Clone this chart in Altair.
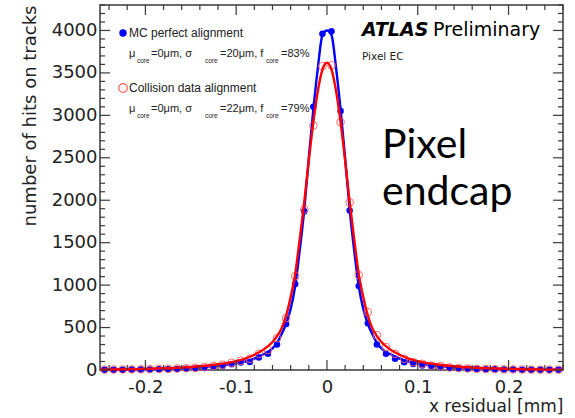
import altair as alt
import pandas as pd

# Bin centres of the residual histograms [mm]
bin_x = [-0.245, -0.235, -0.225, -0.215, -0.205, -0.195, -0.185, -0.175, -0.165, -0.155,
         -0.145, -0.135, -0.125, -0.115, -0.105, -0.095, -0.085, -0.075, -0.065, -0.055,
         -0.045, -0.035, -0.025, -0.015, -0.005, 0.005, 0.015, 0.025, 0.035, 0.045,
         0.055, 0.065, 0.075, 0.085, 0.095, 0.105, 0.115, 0.125, 0.135, 0.145,
         0.155, 0.165, 0.175, 0.185, 0.195, 0.205, 0.215, 0.225, 0.235, 0.245, 0.255]

# MC perfect alignment (hits per bin)
mc_hits = [3, 4, 4, 5, 6, 7, 9, 10, 12, 15,
           18, 24, 35, 48, 68, 88, 95, 148, 190, 300,
           541, 1012, 1870, 3100, 3960, 3990, 3050, 1880, 990, 550,
           300, 190, 132, 92, 72, 52, 40, 31, 24, 18,
           14, 11, 9, 8, 6, 5, 4, 4, 3, 3, 3]

# Collision data alignment (hits per bin)
data_hits = [4, 5, 6, 7, 8, 10, 12, 14, 18, 22,
             27, 35, 48, 62, 85, 108, 132, 190, 235, 375,
             612, 1106, 1894, 2880, 3580, 3590, 2920, 1976, 1118, 682,
             410, 270, 190, 132, 92, 72, 52, 45, 30, 24,
             18, 14, 12, 10, 8, 7, 6, 5, 4, 4, 4]

# Fitted double-Gaussian curves
fit_x = [-0.25, -0.22, -0.20, -0.18, -0.16, -0.14, -0.12, -0.10, -0.09, -0.08,
         -0.07, -0.06, -0.055, -0.05, -0.045, -0.04, -0.035, -0.03, -0.025, -0.02,
         -0.015, -0.01, -0.005, 0.0, 0.005, 0.01, 0.015, 0.02, 0.025, 0.03,
         0.035, 0.04, 0.045, 0.05, 0.055, 0.06, 0.07, 0.08, 0.09, 0.10,
         0.12, 0.14, 0.16, 0.18, 0.20, 0.22, 0.26]
mc_fit = [3, 5, 8, 13, 20, 30, 48, 78, 100, 135,
          185, 255, 320, 420, 545, 720, 990, 1410, 1890, 2500,
          3070, 3560, 3945, 4000, 3945, 3560, 3070, 2500, 1890, 1410,
          990, 720, 545, 420, 320, 255, 185, 135, 100, 78,
          48, 30, 20, 13, 8, 5, 3]
data_fit = [4, 8, 13, 20, 30, 45, 68, 105, 135, 180,
            240, 330, 400, 490, 640, 860, 1130, 1540, 1980, 2470,
            2920, 3290, 3540, 3620, 3540, 3290, 2920, 2470, 1980, 1540,
            1130, 860, 640, 490, 400, 330, 240, 180, 135, 105,
            68, 45, 30, 20, 13, 8, 4]

# Axis tick values
x_major = [-0.2, -0.1, 0.0, 0.1, 0.2]
x_minor = [-0.24, -0.22, -0.18, -0.16, -0.14, -0.12, -0.08, -0.06, -0.04, -0.02,
           0.02, 0.04, 0.06, 0.08, 0.12, 0.14, 0.16, 0.18, 0.22, 0.24, 0.26]
y_major = [0, 500, 1000, 1500, 2000, 2500, 3000, 3500, 4000]
y_minor = [v for v in range(100, 4301, 100) if v % 500 != 0]

W, H = 463, 365
AX = "DejaVu Sans"
LEG = "Liberation Sans"
FRAME = "#3a3a3a"
BLUE = "#0000ff"
RED = "#ff0000"
RED_PT = "#ff6060"

xscale = alt.Scale(domain=[-0.25, 0.26], nice=False, zero=False)
yscale = alt.Scale(domain=[0, 4300], nice=False)
xaxis = alt.Axis(values=x_major, title="x residual [mm]",
                 labelExpr="datum.value == 0 ? '0' : replace(format(datum.value, '.1f'), '\u2212', '-')")
yaxis = alt.Axis(values=y_major, title="number of hits on tracks", format="d")


def X(field):
    return alt.X(f"{field}:Q", scale=xscale, axis=xaxis)


def Y(field):
    return alt.Y(f"{field}:Q", scale=yscale, axis=yaxis)


hist = pd.DataFrame({"x": bin_x, "mc": mc_hits, "data": data_hits})
fits = pd.DataFrame({"x": fit_x, "mc": mc_fit, "data": data_fit})

mc_pts = alt.Chart(hist).mark_point(filled=True, color=BLUE, size=42, opacity=1).encode(
    x=X("x"), y=Y("mc"))
mc_line = alt.Chart(fits).mark_line(color=BLUE, strokeWidth=2.4, interpolate="monotone").encode(
    x=X("x"), y=Y("mc"))
data_pts = alt.Chart(hist).mark_point(filled=False, color=RED_PT, size=60, strokeWidth=1,
                                     opacity=0.9).encode(x=X("x"), y=Y("data"))
data_line = alt.Chart(fits).mark_line(color=RED, strokeWidth=2.4, interpolate="monotone").encode(
    x=X("x"), y=Y("data"))

# Inward-pointing ticks on all four sides of the frame
xt_major = pd.DataFrame({"v": x_major})
xt_minor = pd.DataFrame({"v": x_minor})
yt_major = pd.DataFrame({"v": y_major})
yt_minor = pd.DataFrame({"v": y_minor})


def xticks(df, length):
    bottom = alt.Chart(df).mark_rule(color=FRAME, strokeWidth=1.2).encode(
        x=X("v"), y=alt.value(H), y2=alt.value(H - length))
    top = alt.Chart(df).mark_rule(color=FRAME, strokeWidth=1.2).encode(
        x=X("v"), y=alt.value(0), y2=alt.value(length))
    return bottom + top


def yticks(df, length):
    left = alt.Chart(df).mark_rule(color=FRAME, strokeWidth=1.2).encode(
        y=Y("v"), x=alt.value(0), x2=alt.value(length))
    right = alt.Chart(df).mark_rule(color=FRAME, strokeWidth=1.2).encode(
        y=Y("v"), x=alt.value(W), x2=alt.value(W - length))
    return left + right


ticks = xticks(xt_major, 10) + xticks(xt_minor, 5) + yticks(yt_major, 10) + yticks(yt_minor, 5)


def label(text, px, py, size, font=LEG, weight="normal", style="normal", align="left", color="#222"):
    return alt.Chart(pd.DataFrame({"t": [text]})).mark_text(
        align=align, baseline="middle", font=font, fontSize=size, fontWeight=weight,
        fontStyle=style, color=color).encode(text="t:N", x=alt.value(px), y=alt.value(py))


# Legend entries
legend = (
    alt.Chart(pd.DataFrame({"k": [0]})).mark_point(filled=True, color=BLUE, size=55, opacity=1)
    .encode(x=alt.value(23), y=alt.value(28))
    + alt.Chart(pd.DataFrame({"k": [0]})).mark_point(filled=False, color=RED_PT, size=75, strokeWidth=1.2, opacity=1)
    .encode(x=alt.value(23), y=alt.value(83))
    + label("MC perfect alignment", 29, 28, 12)
    + label("Collision data alignment", 29, 83, 12)
)
fit_rows = [(49, "20", "83"), (104, "22", "79")]
for row_y, sig, frac in fit_rows:
    legend = (legend
              + label("\u03bc", 29, row_y, 11)
              + label("core", 37, row_y + 7, 6.5)
              + label("=0\u03bcm, \u03c3", 51, row_y, 11)
              + label("core", 105, row_y + 7, 6.5)
              + label(f"={sig}\u03bcm, f", 120, row_y, 11)
              + label("core", 166, row_y + 7, 6.5)
              + label(f"={frac}%", 181, row_y, 11))

texts = (
    label("ATLAS", 262, 25, 19, font=AX, weight="bold", style="italic", color="#000")
    + label("Preliminary", 333, 25, 19, font=AX, color="#000")
    + label("Pixel EC", 262, 52, 10.5, font=AX)
    + label("Pixel", 282, 141, 41, font="Lato", color="#000")
    + label("endcap", 282, 188, 41, font="Lato", color="#000")
)

chart = alt.layer(mc_pts, mc_line, data_pts, data_line, ticks, legend, texts).properties(
    width=W, height=H,
    autosize=alt.AutoSizeParams(type="none"),
    padding={"left": 100, "top": 5, "right": 12, "bottom": 48},
).configure_view(
    stroke=FRAME, strokeWidth=1.5
).configure_axis(
    domain=False, ticks=False, grid=False,
    labelFont=AX, labelFontSize=18, labelColor="#222",
    titleFont=AX, titleFontWeight="normal", titleColor="#222",
).configure_axisX(
    labelPadding=8, titleFontSize=17, titleAnchor="end", titlePadding=2,
).configure_axisY(
    labelPadding=3, titleFontSize=18, titleAnchor="end", titlePadding=12,
)

chart.save("out.html", embed_options={"renderer": "svg", "actions": False})
